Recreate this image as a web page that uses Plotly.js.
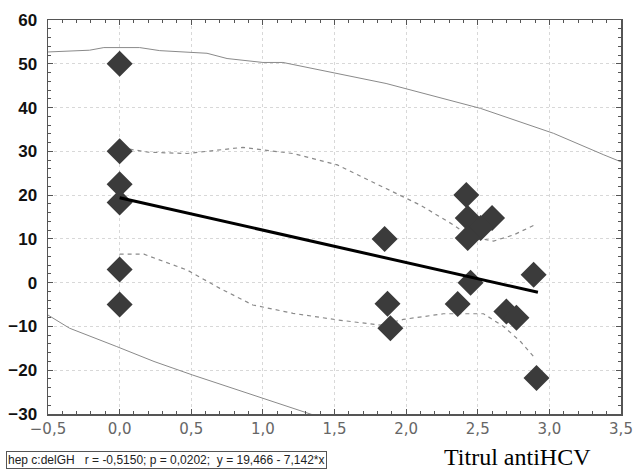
<!DOCTYPE html>
<html>
<head>
<meta charset="utf-8">
<script src="https://cdn.plot.ly/plotly-3.0.1.min.js"></script>
<style>
html,body{margin:0;padding:0;background:#fff;}
#chart{width:634px;height:472px;}
</style>
</head>
<body>
<div id="chart"></div>
<script>
// Data points
const ptsX = [0, 0, 0, 0, 0, 0, 1.85, 1.87, 1.89, 2.42, 2.43, 2.60, 2.52, 2.43, 2.45, 2.36, 2.70, 2.77, 2.89, 2.91];
const ptsY = [50, 30, 22.5, 18.3, 3, -5, 10, -4.8, -10.4, 20, 14.8, 14.8, 12.5, 10.2, 0, -4.9, -6.6, -8, 1.8, -21.8];

// Regression line (end points)
const fitX = [0, 2.92];
const fitY = [19.4, -2.2];

// Confidence band (dashed)
const ciUpX = [0.07, 0.2, 0.47, 0.86, 1.21, 1.52, 1.86, 2.10, 2.33, 2.45, 2.61, 2.75, 2.91];
const ciUpY = [30.5, 29.8, 29.5, 30.9, 29.5, 26.9, 21.5, 17.7, 13.2, 10.5, 9.5, 10.9, 13.4];
const ciLoX = [0.0, 0.17, 0.47, 0.70, 0.93, 1.21, 1.52, 1.68, 1.82, 1.98, 2.26, 2.54, 2.68, 2.80, 2.89];
const ciLoY = [6.5, 6.5, 2.9, -1.3, -5.1, -7.0, -8.5, -9.1, -9.7, -8.4, -7.1, -7.1, -10, -13.5, -16.9];

// Prediction band (solid)
const piUpX = [-0.5, -0.21, -0.11, 0.14, 0.28, 0.61, 0.75, 1.0, 1.14, 1.40, 1.86, 2.52, 3.03, 3.38, 3.5];
const piUpY = [52.7, 53.1, 53.7, 53.7, 53.0, 52.4, 51.2, 50.3, 50.3, 48.6, 45.5, 39.8, 34.1, 29.2, 27.6];
const piLoX = [-0.5, -0.35, -0.02, 0.24, 0.51, 0.82, 1.07, 1.35, 1.45];
const piLoY = [-7.4, -10.4, -14.6, -18, -21.1, -24.5, -27.2, -30.2, -31.5];

// Axis ranges (labels use a decimal comma: "-0,5", "0,0", ... "3,5")
const xRange = [-0.5, 3.5];
const yRange = [-30, 60];

const statText = "hep c:delGH&nbsp;&nbsp;&nbsp;r = -0,5150; p = 0,0202;&nbsp;&nbsp;y = 19,466 - 7,142*x";
const xTitle = "Titrul antiHCV";

const bandLine = {color: '#8a8a8a', width: 1};
const traces = [
  {x: piUpX, y: piUpY, mode: 'lines', line: bandLine, hoverinfo: 'skip'},
  {x: piLoX, y: piLoY, mode: 'lines', line: bandLine, hoverinfo: 'skip'},
  {x: ciUpX, y: ciUpY, mode: 'lines', line: {color: '#8a8a8a', width: 1.2, dash: '4px,4px'}, hoverinfo: 'skip'},
  {x: ciLoX, y: ciLoY, mode: 'lines', line: {color: '#8a8a8a', width: 1.2, dash: '4px,4px'}, hoverinfo: 'skip'},
  {x: ptsX, y: ptsY, mode: 'markers', marker: {symbol: 'diamond', size: 20, color: '#3b3b3b', line: {width: 0}}},
  {x: fitX, y: fitY, mode: 'lines', line: {color: '#000', width: 3}},
  // invisible trace that carries the minor-tick axes
  {x: xRange, y: yRange, xaxis: 'x2', yaxis: 'y2', mode: 'markers', marker: {opacity: 0}, hoverinfo: 'skip'}
];

const minorAxis = {
  showgrid: false, zeroline: false, showticklabels: false, showline: false,
  ticks: 'inside', ticklen: 3, tickcolor: '#555', tickwidth: 1, mirror: 'allticks'
};

const layout = {
  width: 634, height: 472,
  margin: {l: 48, r: 13, t: 20, b: 58},
  paper_bgcolor: '#fff', plot_bgcolor: '#fff',
  showlegend: false,
  separators: ',.',
  font: {family: 'Liberation Sans, Arial, sans-serif', color: '#000'},
  xaxis: {
    range: xRange, tickmode: 'linear', tick0: -0.5, dtick: 0.5, tickformat: '.1f',
    tickfont: {family: 'DejaVu Sans', size: 15, color: '#666'},
    showgrid: true, gridcolor: '#d8d8d8', griddash: 'dot', gridwidth: 1,
    zeroline: false, showline: true, linecolor: '#555', linewidth: 1.5, mirror: 'allticks',
    ticks: 'inside', ticklen: 5, tickcolor: '#555', tickwidth: 1
  },
  yaxis: {
    range: yRange, tickmode: 'linear', tick0: -30, dtick: 10,
    tickfont: {family: 'Liberation Sans', size: 17, color: '#111', weight: 'bold'},
    ticklabelstandoff: 6,
    showgrid: true, gridcolor: '#d8d8d8', griddash: 'dot', gridwidth: 1,
    zeroline: false, showline: true, linecolor: '#555', linewidth: 1.5, mirror: 'allticks',
    ticks: 'inside', ticklen: 5, tickcolor: '#555', tickwidth: 1
  },
  xaxis2: Object.assign({}, minorAxis, {overlaying: 'x', anchor: 'y2', range: xRange, tickmode: 'linear', tick0: -0.5, dtick: 0.1}),
  yaxis2: Object.assign({}, minorAxis, {overlaying: 'y', anchor: 'x2', range: yRange, tickmode: 'linear', tick0: -30, dtick: 2}),
  annotations: [
    {xref: 'paper', yref: 'paper', x: (6 - 48) / 573, y: (414 - 460) / 394, xanchor: 'left', yanchor: 'middle',
     text: statText, showarrow: false, font: {family: 'Liberation Sans', size: 12, color: '#222'},
     bordercolor: '#555', borderwidth: 1, borderpad: 1, bgcolor: '#fff'},
    {xref: 'paper', yref: 'paper', x: (517 - 48) / 573, y: (414 - 457) / 394, xanchor: 'center', yanchor: 'middle',
     text: xTitle, showarrow: false, font: {family: 'Liberation Serif', size: 24, color: '#000'}}
  ]
};

Plotly.newPlot('chart', traces, layout, {displayModeBar: false, staticPlot: true});
</script>
</body>
</html>
